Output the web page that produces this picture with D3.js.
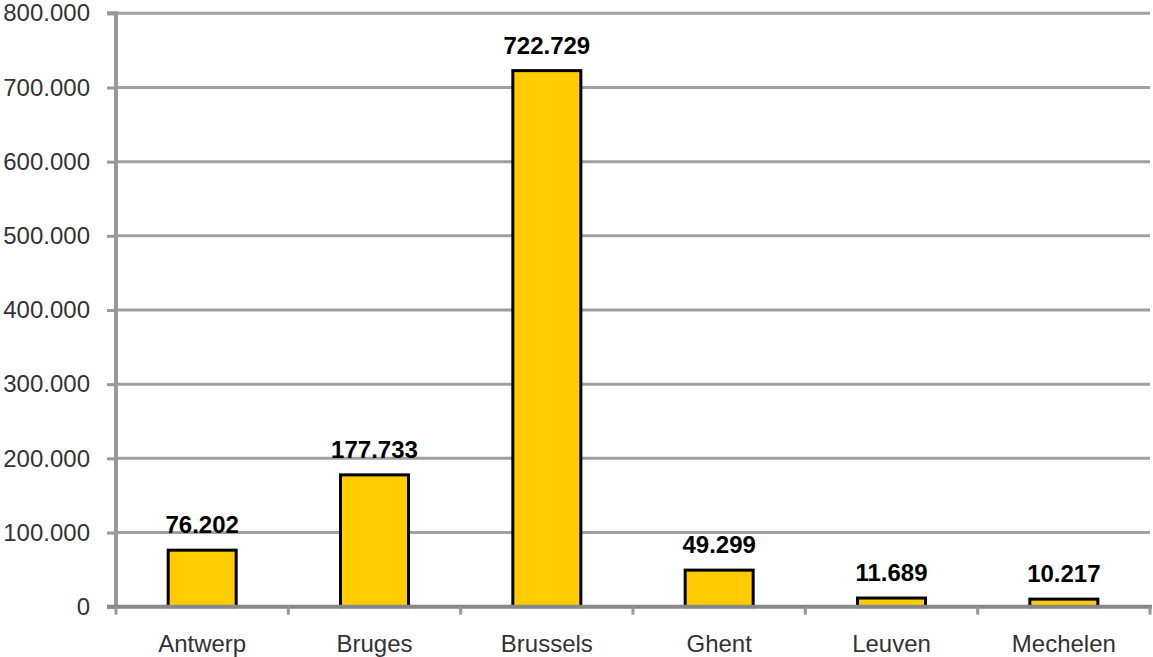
<!DOCTYPE html>
<html><head><meta charset="utf-8">
<script src="https://cdn.jsdelivr.net/npm/d3@7"></script>
<style>body{margin:0;background:#fff}svg{display:block}text{font-family:"Liberation Sans",Arial,sans-serif}</style>
</head><body>
<svg id="c" width="1153" height="657"></svg>
<script>
const categories = ["Antwerp","Bruges","Brussels","Ghent","Leuven","Mechelen"];
const values = [76202,177733,722729,49299,11689,10217];
const yTicks = [0,100000,200000,300000,400000,500000,600000,700000,800000];

const W=1153,H=657;
const m={left:116,right:3,top:13.3,bottom:50.3};
const svg=d3.select("#c");
const loc=d3.formatLocale({decimal:",",thousands:".",grouping:[3],currency:["",""]});
const fmt=loc.format(",d");
const x=d3.scaleBand().domain(categories).range([m.left,W-m.right]);
const y=d3.scaleLinear().domain([0,800000]).range([H-m.bottom,m.top]);

// gridlines
svg.append("g").selectAll("line").data(yTicks.slice(1)).join("line")
 .attr("x1",m.left).attr("x2",W-m.right).attr("y1",d=>y(d)).attr("y2",d=>y(d))
 .attr("stroke","#a0a0a0").attr("stroke-width",3);

// y axis
const ya=svg.append("g").attr("transform",`translate(${m.left},0)`)
 .call(d3.axisLeft(y).tickValues(yTicks).tickFormat(d=>d===0?"0":fmt(d)).tickSize(9).tickPadding(17));
ya.select(".domain").attr("stroke","#999").attr("stroke-width",4).attr("d",`M-9,${y(800000)}H0V${y(0)}`);
ya.selectAll(".tick line").attr("stroke","#999").attr("stroke-width",3);
ya.selectAll(".tick text").attr("font-size",24).attr("fill","#333").attr("font-family","Liberation Sans, Arial, sans-serif");

// bars
const bw=68;
svg.append("g").selectAll("rect").data(values).join("rect")
 .attr("x",(d,i)=>x(categories[i])+x.bandwidth()/2-bw/2)
 .attr("width",bw)
 .attr("y",d=>y(d)).attr("height",d=>y(0)-y(d))
 .attr("fill","#FFCC00").attr("stroke","#000").attr("stroke-width",3);

// x axis
const xa=svg.append("g").attr("transform",`translate(0,${y(0)})`);
xa.append("line").attr("x1",m.left-9).attr("x2",W-m.right+2).attr("stroke","#888").attr("stroke-width",4);
const bounds=categories.map(c=>x(c)).concat([x.range()[1]]);
xa.selectAll(".tk").data(bounds).join("line").attr("class","tk")
 .attr("x1",d=>d).attr("x2",d=>d).attr("y1",0).attr("y2",8).attr("stroke","#999").attr("stroke-width",3);
xa.selectAll(".lab").data(categories).join("text").attr("class","lab")
 .attr("x",d=>x(d)+x.bandwidth()/2).attr("y",45).attr("text-anchor","middle")
 .attr("font-size",24).attr("fill","#333").text(d=>d);

// value labels
svg.append("g").selectAll("text").data(values).join("text")
 .attr("x",(d,i)=>x(categories[i])+x.bandwidth()/2)
 .attr("y",d=>y(d)-17).attr("text-anchor","middle")
 .attr("font-size",24).attr("font-weight","bold").attr("fill","#000").text(d=>fmt(d));
</script>
</body></html>
